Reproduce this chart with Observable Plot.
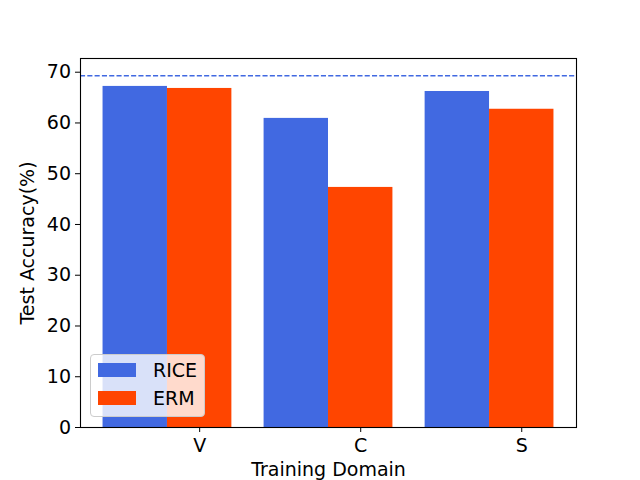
<!DOCTYPE html>
<html>
<head>
<meta charset="utf-8">
<script src="https://cdn.jsdelivr.net/npm/d3@7"></script>
<script src="https://cdn.jsdelivr.net/npm/@observablehq/plot@0.6"></script>
<style>
  body { margin: 0; background: #fff; }
  #wrap { position: relative; width: 640px; height: 480px; font-family: "DejaVu Sans", sans-serif; }
  #legend { position: absolute; left: 90px; top: 354px; width: 113px; height: 61px;
            border: 1px solid #cccccc; border-radius: 4px; background: rgba(255,255,255,0.8);
            font-size: 19px; color: #000; }
  .row { position: absolute; left: 0; height: 20px; }
  .sw { position: absolute; left: 7px; width: 38px; height: 14px; }
  .lb { position: absolute; left: 62px; white-space: nowrap; line-height: 16px; }
</style>
</head>
<body>
<div id="wrap"></div>
<script>
const domains = ["V", "C", "S"];
const seriesNames = ["RICE", "ERM"];
const riceValues = [67.2, 60.9, 66.2];
const ermValues = [66.8, 47.3, 62.7];
const referenceLine = 69.3;
const colors = ["#4169E1", "#FF4500"];

const barWidth = 0.4;
const seriesValues = [riceValues, ermValues];
const rows = [];
seriesNames.forEach((s, k) => {
  domains.forEach((d, i) => {
    const c = i + k * barWidth;
    rows.push({domain: d, series: s, x1: c - barWidth / 2, x2: c + barWidth / 2, y: seriesValues[k][i]});
  });
});
const tickPos = domains.map((d, i) => i + barWidth);

const chart = Plot.plot({
  width: 640,
  height: 480,
  marginLeft: 80,
  marginRight: 64,
  marginTop: 58,
  marginBottom: 53,
  style: {fontFamily: "DejaVu Sans, sans-serif", fontSize: "19px", color: "#000", background: "#fff"},
  x: {type: "linear", domain: [-0.34, 2.74]},
  y: {domain: [0, 72.7]},
  color: {domain: seriesNames, range: colors},
  marks: [
    Plot.rectY(rows, {x1: "x1", x2: "x2", y1: 0, y2: "y", fill: "series", inset: 0}),
    Plot.ruleY([referenceLine], {stroke: "#4169E1", strokeWidth: 1.3, strokeDasharray: "5.1,2.2"}),
    Plot.frame({stroke: "#000", strokeWidth: 1.1}),
    Plot.axisX(tickPos, {tickSize: 5, tickPadding: 6, tickFormat: (v) => domains[Math.round(v - barWidth)],
      label: "Training Domain", labelAnchor: "center", labelArrow: "none", labelOffset: 48, fontSize: 19}),
    Plot.axisY(d3.range(0, 71, 10), {tickSize: 5, tickPadding: 4.5,
      label: "Test Accuracy(%)", labelAnchor: "center", labelArrow: "none", labelOffset: 60, fontSize: 19})
  ]
});

const wrap = document.getElementById("wrap");
wrap.appendChild(chart);

const legend = document.createElement("div");
legend.id = "legend";
seriesNames.forEach((s, k) => {
  const row = document.createElement("div");
  row.className = "row";
  row.style.top = (8 + k * 28) + "px";
  row.innerHTML = `<div class="sw" style="background:${colors[k]}"></div><div class="lb" style="top:-1px">${s}</div>`;
  legend.appendChild(row);
});
wrap.appendChild(legend);
</script>
</body>
</html>
